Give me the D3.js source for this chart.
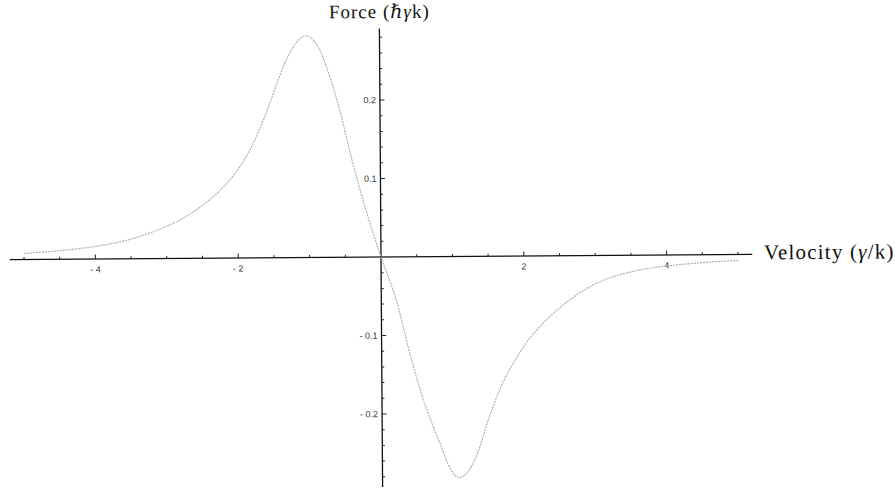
<!DOCTYPE html>
<html>
<head>
<meta charset="utf-8">
<script src="https://cdn.jsdelivr.net/npm/d3@7"></script>
<style>
  html, body { margin: 0; padding: 0; background: #fff; }
  svg { display: block; }
</style>
</head>
<body>
<svg id="chart" width="895" height="488"></svg>
<script>
// Velocity samples (units of γ/k) and the force on the atom (units of ħγk)
const velocity = [-5.0, -4.5, -4.0, -3.5, -3.0, -2.75, -2.5, -2.25, -2.0, -1.8, -1.6, -1.4, -1.25, -1.1, -1.0, -0.9, -0.8, -0.6, -0.4, -0.2, 0,
                  0.2, 0.4, 0.6, 0.8, 0.95, 1.05, 1.15, 1.3, 1.5, 1.7, 1.9, 2.1, 2.5, 3.0, 3.5, 4.0, 4.5, 5.0];
const force = [0.0075, 0.011, 0.016, 0.025, 0.041, 0.052, 0.067, 0.086, 0.112, 0.142, 0.183, 0.232, 0.262, 0.280, 0.282, 0.274, 0.256, 0.200, 0.125, 0.058, 0,
               -0.052, -0.125, -0.188, -0.236, -0.270, -0.281, -0.279, -0.258, -0.205, -0.160, -0.128, -0.102, -0.066, -0.036, -0.021, -0.014, -0.010, -0.0075];

const xMajor = [-4, -2, 2, 4];
const yMajor = [-0.2, -0.1, 0.1, 0.2];

const svg = d3.select("#chart");

const x = d3.scaleLinear().domain([-5.2, 5.2]).range([9.7, 752.3]);
const y = d3.scaleLinear().domain([-0.293, 0.291]).range([487, 28.6]);

const x0 = x(0), y0 = y(0);

// whole plot sits slightly tilted on the page
const g = svg.append("g").attr("transform", `rotate(-0.4, ${x0}, ${y0})`);

// minor tick positions
const xMinor = d3.range(-5, 5.01, 0.5).filter(v => Math.abs(v) > 1e-9 && !xMajor.some(m => Math.abs(m - v) < 1e-9));
const yMinor = d3.range(-0.28, 0.2801, 0.02).filter(v => Math.abs(v) > 1e-9 && !yMajor.some(m => Math.abs(m - v) < 1e-9));

const tickFont = "Liberation Sans, Arial, sans-serif";
const titleFont = "Liberation Serif, DejaVu Serif, serif";

// horizontal axis
const xAxis = g.append("g").attr("transform", `translate(0,${y0})`);
xAxis.append("line").attr("x1", x.range()[0]).attr("x2", x.range()[1])
  .attr("stroke", "#111").attr("stroke-width", 1.3);
xAxis.selectAll("line.minor").data(xMinor).join("line").attr("class", "minor")
  .attr("x1", d => x(d)).attr("x2", d => x(d)).attr("y1", 0).attr("y2", -2.5)
  .attr("stroke", "#222").attr("stroke-width", 1);
xAxis.selectAll("line.major").data(xMajor).join("line").attr("class", "major")
  .attr("x1", d => x(d)).attr("x2", d => x(d)).attr("y1", 0).attr("y2", -4.5)
  .attr("stroke", "#222").attr("stroke-width", 1);
xAxis.selectAll("text").data(xMajor).join("text")
  .attr("x", d => x(d)).attr("y", 13.5)
  .attr("text-anchor", "middle")
  .attr("font-family", tickFont)
  .attr("font-size", 9).attr("fill", "#333")
  .text(d => d < 0 ? "- " + Math.abs(d) : d);

// vertical axis
const yAxis = g.append("g").attr("transform", `translate(${x0},0)`);
yAxis.append("line").attr("y1", y.range()[0]).attr("y2", y.range()[1])
  .attr("stroke", "#111").attr("stroke-width", 1.3);
yAxis.selectAll("line.minor").data(yMinor).join("line").attr("class", "minor")
  .attr("y1", d => y(d)).attr("y2", d => y(d)).attr("x1", 0).attr("x2", 2.5)
  .attr("stroke", "#222").attr("stroke-width", 1);
yAxis.selectAll("line.major").data(yMajor).join("line").attr("class", "major")
  .attr("y1", d => y(d)).attr("y2", d => y(d)).attr("x1", 0).attr("x2", 4.5)
  .attr("stroke", "#222").attr("stroke-width", 1);
yAxis.selectAll("text").data(yMajor).join("text")
  .attr("x", -4).attr("y", d => y(d)).attr("dy", "0.35em")
  .attr("text-anchor", "end")
  .attr("font-family", tickFont)
  .attr("font-size", 9).attr("fill", "#333")
  .text(d => d < 0 ? "- " + Math.abs(d) : d);

// axis titles
const fTitle = g.append("text").attr("x", x0).attr("y", 18)
  .attr("text-anchor", "middle")
  .attr("font-family", titleFont)
  .attr("font-size", 19).attr("letter-spacing", 1).attr("fill", "#111");
fTitle.append("tspan").text("Force (");
fTitle.append("tspan").attr("font-style", "italic").text("ℏγ");
fTitle.append("tspan").text("k)");

const vTitle = g.append("text").attr("x", 764).attr("y", y0 + 5)
  .attr("font-family", titleFont)
  .attr("font-size", 21).attr("letter-spacing", 1.2).attr("fill", "#111");
vTitle.append("tspan").text("Velocity (");
vTitle.append("tspan").attr("font-style", "italic").text("γ");
vTitle.append("tspan").text("/k)");

// force curve
const pts = velocity.map((v, i) => [v, force[i]]);
const line = d3.line().x(d => x(d[0])).y(d => y(d[1])).curve(d3.curveCatmullRom.alpha(0.5));
g.append("path").datum(pts).attr("d", line)
  .attr("fill", "none").attr("stroke", "#b0b0b0").attr("stroke-width", 1.2)
  .attr("stroke-dasharray", "2,1");
</script>
</body>
</html>
